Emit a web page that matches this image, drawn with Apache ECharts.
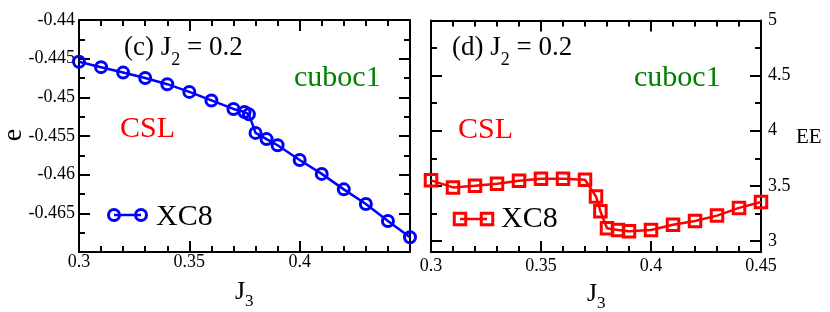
<!DOCTYPE html>
<html><head><meta charset="utf-8">
<script src="https://cdn.jsdelivr.net/npm/echarts@6/dist/echarts.min.js"></script>
<style>html,body{margin:0;padding:0;background:#fff}#c{width:830px;height:312px}</style>
</head><body><div id="c"></div><script>
// ---- data ----
const J3 = [0.30,0.31,0.32,0.33,0.34,0.35,0.36,0.37,0.375,0.377,0.38,0.385,0.39,0.40,0.41,0.42,0.43,0.44,0.45];
const energy = [-0.4454,-0.4461,-0.4468,-0.4475,-0.4483,-0.4493,-0.4504,-0.4515,-0.4519,-0.4522,-0.4546,-0.4554,-0.4562,-0.4581,-0.4599,-0.4619,-0.4638,-0.4660,-0.4681];
const entropy = [3.55,3.486,3.50,3.52,3.547,3.565,3.564,3.555,3.404,3.27,3.115,3.10,3.088,3.10,3.148,3.181,3.23,3.30,3.353];
const xTicks = [0.3,0.35,0.4,0.45];
const leftXLabels = ['0.3','0.35','0.4',''];
const rightXLabels = ['0.3','0.35','0.4','0.45'];
const eTicks = [-0.47,-0.465,-0.46,-0.455,-0.45,-0.445,-0.44];
const eTickLabels = ['','-0.465','-0.46','-0.455','-0.45','-0.445','-0.44'];
const eeTicks = [3,3.5,4,4.5,5];
const eeTickLabels = ['3','3.5','4','4.5','5'];
const eeMinorTicks = [3.25,3.75,4.25,4.75];

const FONT = '"Liberation Serif","Times New Roman",serif';
function lab(ticks, labels){
  return function(v){
    for (let i=0;i<ticks.length;i++){ if (Math.abs(ticks[i]-v)<1e-9) return labels[i]; }
    return '';
  };
}
const axLine = {show:true, onZero:false, lineStyle:{color:'#000', width:2}};
const tickS = {color:'#000', width:2};
function xAx(grid, pos, labels, margin){
  return {type:'value', gridIndex:grid, position:pos, min:0.3, max:0.45, interval:0.05,
    axisLine:axLine,
    axisTick:{show:true, inside:true, length:11, lineStyle:tickS},
    minorTick:{show:true, splitNumber:5, length:6, lineStyle:tickS},
    axisLabel: labels ? {show:true, margin:margin, color:'#000', fontFamily:FONT, fontSize:18,
      showMinLabel:true, showMaxLabel:true, formatter:lab(xTicks, labels)} : {show:false},
    splitLine:{show:false}, minorSplitLine:{show:false}};
}
function yLeftAx(pos, showLab){
  return {type:'value', gridIndex:0, position:pos, min:-0.47, max:-0.44, interval:0.005,
    axisLine:axLine,
    axisTick:{show:true, inside:true, length:11, lineStyle:tickS},
    minorTick:{show:true, splitNumber:2, length:6, lineStyle:tickS},
    axisLabel: showLab ? {show:true, margin:4, color:'#000', fontFamily:FONT, fontSize:18,
      showMinLabel:true, showMaxLabel:true, formatter:lab(eTicks, eTickLabels)} : {show:false},
    splitLine:{show:false}};
}
function yRightAx(pos, showLab, minor){
  return {type:'value', gridIndex:1, position:pos, min:2.9, max:5,
    axisLine: minor ? {show:false, onZero:false} : axLine,
    axisTick:{show:true, inside:true, length: minor?6:11, lineStyle:tickS,
      customValues: minor ? eeMinorTicks : eeTicks},
    axisLabel: showLab ? {show:true, margin:7, color:'#000', fontFamily:FONT, fontSize:18,
      customValues: eeTicks, formatter:lab(eeTicks, eeTickLabels)} : {show:false},
    splitLine:{show:false}};
}

const chart = echarts.init(document.getElementById('c'), null, {renderer:'canvas'});
function txt(x, y, text, size, color, extra){
  return Object.assign({type:'text', x:x, y:y, z:10,
    style:{text:text, fontFamily:FONT, fontSize:size, fill:color, align:'left', verticalAlign:'middle'}}, extra||{});
}
function subText(x, y, main1, sub, main2, size, subSize, off){
  const rich = {
    m:{fontFamily:FONT, fontSize:size, fill:'#000', verticalAlign:'top', lineHeight:size+3},
    s:{fontFamily:FONT, fontSize:subSize, fill:'#000', verticalAlign:'top', padding:[off,0,0,0], lineHeight:subSize+2}
  };
  return {type:'text', x:x, y:y, z:10, style:{text:'{m|'+main1+'}{s|'+sub+'}'+(main2?'{m|'+main2+'}':''), rich:rich, align:'left', verticalAlign:'top', fontFamily:FONT, fontSize:size}};
}
const option = {
  animation:false,
  backgroundColor:'#fff',
  grid:[
    {left:79, top:20, width:331, height:232},
    {left:431, top:20.5, width:330, height:231.5}
  ],
  xAxis:[ xAx(0,'bottom',leftXLabels,1), xAx(0,'top',null,0), xAx(1,'bottom',rightXLabels,5), xAx(1,'top',null,0) ],
  yAxis:[ yLeftAx('left',true), yLeftAx('right',false),
          yRightAx('right',true,false), yRightAx('left',false,false),
          yRightAx('right',false,true), yRightAx('left',false,true) ],
  series:[
    {type:'line', name:'XC8', xAxisIndex:0, yAxisIndex:0, data:J3.map((x,i)=>[x,energy[i]]),
     symbol:'circle', symbolSize:11, showAllSymbol:true, clip:false, z:3,
     itemStyle:{color:'rgba(255,255,255,0)', borderColor:'#0000ff', borderWidth:3},
     lineStyle:{color:'#0000ff', width:2.5}, emphasis:{disabled:true}},
    {type:'line', name:'XC8', xAxisIndex:2, yAxisIndex:2, data:J3.map((x,i)=>[x,entropy[i]]),
     symbol:'rect', symbolSize:11.5, showAllSymbol:true, clip:false, z:3,
     itemStyle:{color:'rgba(255,255,255,0)', borderColor:'#ff0000', borderWidth:3},
     lineStyle:{color:'#ff0000', width:2.5}, emphasis:{disabled:true}}
  ],
  graphic:[
    subText(124, 34, '(c) J', '2', ' = 0.2', 27, 18, 17),
    subText(452, 34, '(d) J', '2', ' = 0.2', 27, 18, 17),
    txt(294, 78, 'cuboc1', 30, '#008000'),
    txt(634, 78, 'cuboc1', 30, '#008000'),
    txt(120, 129, 'CSL', 30, '#ff0000'),
    txt(458, 130, 'CSL', 30, '#ff0000'),
    txt(156, 217, 'XC8', 30, '#000'),
    txt(501, 219, 'XC8', 30, '#000'),
    txt(14, 135, 'e', 28, '#000', {rotation:Math.PI/2, style:{text:'e', fontFamily:FONT, fontSize:28, fill:'#000', align:'center', verticalAlign:'middle'}}),
    txt(796, 137, 'EE', 21, '#000'),
    subText(235, 279, 'J', '3', '', 26, 17, 14),
    subText(587, 281, 'J', '3', '', 26, 17, 14),
    {type:'line', z:10, shape:{x1:114,y1:215,x2:141,y2:215}, style:{stroke:'#0000ff', lineWidth:2.5}},
    {type:'circle', z:10, shape:{cx:114,cy:215,r:5.5}, style:{fill:'none', stroke:'#0000ff', lineWidth:3}},
    {type:'circle', z:10, shape:{cx:141,cy:215,r:5.5}, style:{fill:'none', stroke:'#0000ff', lineWidth:3}},
    {type:'line', z:10, shape:{x1:460,y1:219,x2:487,y2:219}, style:{stroke:'#ff0000', lineWidth:2.5}},
    {type:'rect', z:10, shape:{x:454.25,y:213.25,width:11.5,height:11.5}, style:{fill:'none', stroke:'#ff0000', lineWidth:3}},
    {type:'rect', z:10, shape:{x:481.25,y:213.25,width:11.5,height:11.5}, style:{fill:'none', stroke:'#ff0000', lineWidth:3}}
  ]
};
chart.setOption(option);
</script></body></html>
